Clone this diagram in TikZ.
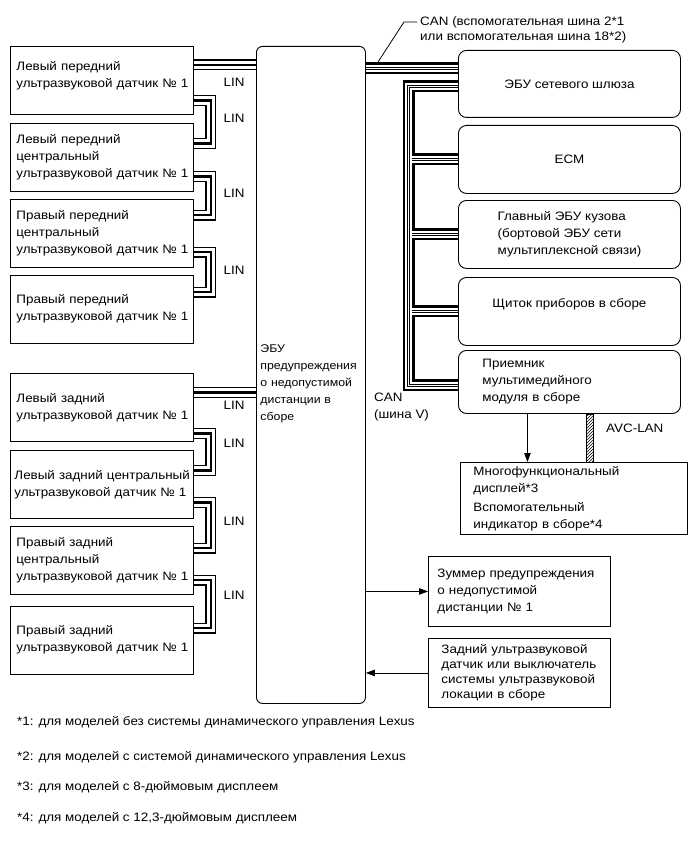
\documentclass[tikz,border=0pt]{standalone}
\usepackage{fontspec}
\setmainfont{Liberation Sans}[FakeStretch=1.1]
\usetikzlibrary{positioning,arrows.meta,patterns}
\tikzset{
  sens/.style={rectangle,draw=black,line width=0.9pt,fill=white,
    text width=175pt,inner xsep=4pt,inner ysep=2pt,align=left,
    minimum height=68pt,anchor=north west},
  unit/.style={rectangle,rounded corners=8pt,draw=black,line width=0.9pt,
    minimum width=222pt,minimum height=67pt,anchor=north west,align=center},
  plainbox/.style={rectangle,draw=black,line width=0.9pt,align=left,
    anchor=north west},
  lin_bus/.style={line join=miter,
    preaction={draw=black,line width=11pt},
    preaction={draw=white,line width=8.4pt},
    draw=black,line width=2.4pt},
  can_bus/.style={line join=miter,
    preaction={draw=black,line width=12pt},
    preaction={draw=white,line width=7.6pt},
    preaction={draw=black,line width=3.8pt},
    draw=white,line width=1.8pt},
  arr/.style={-{Triangle[length=9pt,width=6.5pt]},line width=0.8pt},
  lbl/.style={inner sep=0pt},
}

\begin{document}
\begin{tikzpicture}[x=1pt,y=-1pt,
                    every node/.style={font=\fontsize{12.2}{17}\selectfont}]
  \useasboundingbox (0,0) rectangle (689,853);

  % front sensors
  \node (s1) [sens] at (10,46)
    {\hspace*{2pt}Левый передний\\\hspace*{2pt}ультразвуковой датчик №~1\\[-6pt]\mbox{}};
  \node (s2) [sens, below=8pt of s1]
    {\hspace*{2pt}Левый передний\\\hspace*{2pt}центральный\\\hspace*{2pt}ультразвуковой датчик №~1};
  \node (s3) [sens, below=7pt of s2]
    {\hspace*{2pt}Правый передний\\\hspace*{2pt}центральный\\\hspace*{2pt}ультразвуковой датчик №~1};
  \node (s4) [sens, below=7pt of s3]
    {\hspace*{2pt}Правый передний\\\hspace*{2pt}ультразвуковой датчик №~1};
  % rear sensors
  \node (s5) [sens] at (10,373)
    {\hspace*{2pt}Левый задний\\\hspace*{2pt}ультразвуковой датчик №~1};
  \node (s6) [sens, below=8pt of s5]
    {\mbox{Левый задний центральный}\\\mbox{ультразвуковой датчик №~1}};
  \node (s7) [sens, below=7pt of s6]
    {\hspace*{2pt}Правый задний\\\hspace*{2pt}центральный\\\hspace*{2pt}ультразвуковой датчик №~1};
  \node (s8) [sens, below=11pt of s7]
    {\hspace*{2pt}Правый задний\\\hspace*{2pt}ультразвуковой датчик №~1};

  \node (ecu) [draw=black,line width=0.9pt,rounded corners=6pt,
               anchor=north west,minimum height=657pt,
               text width=101pt,inner xsep=4pt,align=left,
               font=\fontsize{11.2}{17}\selectfont] at (256,46)
    {\mbox{}\\[9pt]ЭБУ\\предупреждения\\о недопустимой\\дистанции в\\сборе};

  % CAN V units
  \node (gw)    [unit] at (458,50)  {ЭБУ сетевого шлюза};
  \node (ecm)   [unit, minimum height=68pt] at (458,125) {ECM};
  \node (bcm)   [unit, minimum height=68pt, align=left] at (458,200)
    {Главный ЭБУ кузова\\(бортовой ЭБУ сети\\мультиплексной связи)};
  \node (meter) [unit, minimum height=68pt] at (458,277)
    {Щиток приборов в сборе\\\mbox{}};
  \node (rcv)   [unit, minimum height=63pt, align=left,
                 text width=174pt, inner xsep=24pt] at (458,350)
    {Приемник\\мультимедийного\\модуля в сборе};

  \node (disp) [plainbox, minimum height=72pt, text width=201pt,
                inner xsep=13pt] at (460,462)
    {Многофункциональный\\дисплей*3\\[2pt]Вспомогательный\\индикатор в сборе*4};
  \node (buz) [plainbox, minimum height=70pt, text width=164pt,
               inner xsep=9pt] at (428,556)
    {Зуммер предупреждения\\о недопустимой\\дистанции №~1};
  \node (sw) [plainbox, minimum height=69pt, text width=156pt,
              inner xsep=13pt,
              font=\fontsize{12.2}{15}\selectfont] at (428,638)
    {Задний ультразвуковой\\датчик или выключатель\\системы ультразвуковой\\локации в сборе};

  % LIN wiring
  \coordinate (f0) at ([yshift=15.5pt]s1.east);
  \coordinate (r0) at ([yshift=15pt]s5.east);
  \draw[lin_bus] (f0) -- (f0 -| ecu.west);
  \draw[lin_bus] (r0) -- (r0 -| ecu.west);
  \draw[lin_bus] ([yshift=-20pt]s1.east) -- ++(17,0) |- ([yshift=14pt]s2.east);
  \draw[lin_bus] ([yshift=-19pt]s2.east) -- ++(17,0) |- ([yshift=18pt]s3.east);
  \draw[lin_bus] ([yshift=-19pt]s3.east) -- ++(17,0) |- ([yshift=17pt]s4.east);
  \draw[lin_bus] ([yshift=-26pt]s5.east) -- ++(17,0) |- ([yshift=14pt]s6.east);
  \draw[lin_bus] ([yshift=-18pt]s6.east) -- ++(17,0) |- ([yshift=12pt]s7.east);
  \draw[lin_bus] ([yshift=-20pt]s7.east) -- ++(17,0) |- ([yshift=12pt]s8.east);
  \foreach \y [count=\i] in {82,118,193,270,405,443,521,595}
    \node (lin\i) [lbl] at (234,\y) {LIN};

  % CAN wiring
  \coordinate (c0) at ([yshift=15.5pt]gw.west);
  \draw[can_bus] (c0 -| ecu.east) -- (c0);
  \draw[can_bus] ([yshift=-2.5pt]gw.west) -- ++(-49.5,0)
    |- ([yshift=-3.5pt]rcv.west);
  \foreach \n in {ecm,bcm,meter}
    \draw[can_bus] (\n.west) -- ++(-46,0);

  \node (canlbl) [lbl, anchor=north west, align=left,
                  font=\fontsize{12.2}{15}\selectfont] at (420,16)
    {CAN (вспомогательная шина 2*1\\или вспомогательная шина 18*2)};
  \coordinate (tap) at (378,62);
  \draw[line width=0.8pt] (tap) -- ([xshift=-16pt,yshift=-6pt]canlbl.north west)
    -- ([xshift=-3pt,yshift=-6pt]canlbl.north west);
  \node (canv) [lbl, anchor=north west, align=left] at (374,393)
    {CAN\\(шина V)};

  % multimedia outputs
  \draw[arr] ([xshift=-42pt]rcv.south) -- ([xshift=-42pt]rcv.south |- disp.north);
  \draw[line width=0.8pt, pattern=north east lines]
    ([xshift=17pt]rcv.south) rectangle ([xshift=24pt]disp.north -| rcv.south);
  \node (avc) [lbl, anchor=west] at (606,428) {AVC-LAN};

  \draw[arr] (buz.west -| ecu.east) -- (buz.west);
  \draw[arr] (sw.west) -- (sw.west -| ecu.east);

  % notes
  \node (n1) [lbl, anchor=west] at (17,722)
    {*1: для моделей без системы динамического управления Lexus};
  \node (n2) [lbl, anchor=west] at (17,757)
    {*2: для моделей с системой динамического управления Lexus};
  \node (n3) [lbl, anchor=west] at (17,787)
    {*3: для моделей с 8-дюймовым дисплеем};
  \node (n4) [lbl, anchor=west] at (17,818)
    {*4: для моделей с 12,3-дюймовым дисплеем};
\end{tikzpicture}
\end{document}
